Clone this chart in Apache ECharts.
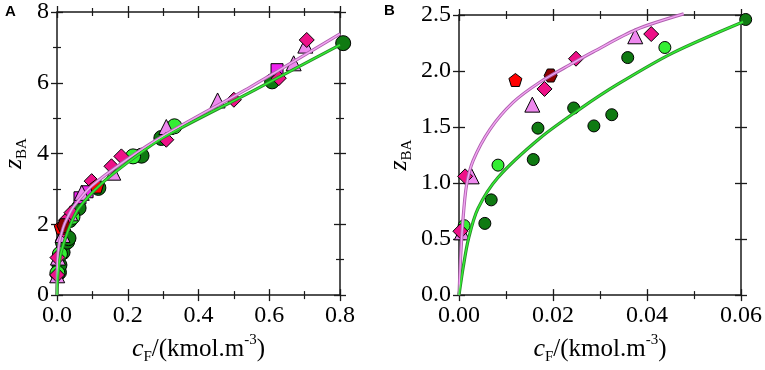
<!DOCTYPE html>
<html lang="en" style="height: 100%">
<head>
  <meta charset="utf-8">
</head>
<body style="height: 100%; margin: 0; background: #fff">
  <div id="container" style="width: 765px; height: 370px"></div>

  <script type="text/javascript" src="https://fastly.jsdelivr.net/npm/echarts@6/dist/echarts.min.js"></script>
  <script type="text/javascript">
// measured points [cF, zBA]
var darkGreen = [[0.0055, 0.64], [0.00685, 0.85], [0.0158, 1.21], [0.0168, 1.49], [0.0244, 1.67], [0.0287, 1.51],
  [0.0325, 1.61], [0.0359, 2.12], [0.061, 2.46], [0.117, 3.03], [0.239, 3.94], [0.295, 4.44], [0.608, 6.04], [0.809, 7.12]];
var lightGreen = [[0.0011, 0.62], [0.0083, 1.16], [0.0438, 2.21], [0.215, 3.92], [0.332, 4.77]];
var pinkDiamond = [[0.0003, 0.57], [0.0013, 1.06], [0.0182, 1.84], [0.0249, 2.11], [0.0409, 2.33], [0.098, 3.22],
  [0.154, 3.64], [0.182, 3.92], [0.309, 4.39], [0.5, 5.52], [0.627, 6.13], [0.706, 7.21]];
var violetTriangle = [[0.0006, 0.56], [0.0027, 1.06], [0.0156, 1.70], [0.0375, 2.31], [0.070, 2.89], [0.159, 3.46],
  [0.309, 4.75], [0.454, 5.5], [0.669, 6.55], [0.702, 7.05]];
var magentaSquare = [[0.065, 2.75], [0.085, 2.92], [0.622, 6.37]];
var redPentagon = [[0.012, 1.92], [0.112, 3.08]];
var darkRedHexagon = [[0.0195, 1.96]];

// fitted curves
var pinkFitA = [[0, 0], [0.0016, 0.98], [0.0066, 1.48], [0.0172, 1.9], [0.0285, 2.17], [0.0478, 2.51], [0.1, 3.1],
  [0.2, 3.85], [0.3, 4.5], [0.55, 5.9], [0.8, 7.38]];
var greenFitA = [[0, 0], [0.002, 0.5], [0.0083, 1.05], [0.0172, 1.4], [0.0337, 1.88], [0.0605, 2.44], [0.126, 3.15],
  [0.22, 3.9], [0.3, 4.45], [0.55, 5.75], [0.8, 7.07]];
var pinkFitB = [[0, 0], [0.0003, 0.3], [0.0008, 0.65], [0.0016, 0.98], [0.003, 1.2], [0.0066, 1.48], [0.0115, 1.72],
  [0.0172, 1.9], [0.0242, 2.07], [0.0285, 2.17], [0.0377, 2.37], [0.0478, 2.51]];
var greenFitB = [[0, 0], [0.0009, 0.25], [0.002, 0.5], [0.004, 0.77], [0.0083, 1.05], [0.0172, 1.4], [0.0257, 1.66],
  [0.0337, 1.88], [0.0454, 2.16], [0.0605, 2.44]];

var serif = 'Liberation Serif';
var pentagon = 'path://M0,-10 L9.51,-3.09 L5.88,8.09 L-5.88,8.09 L-9.51,-3.09 Z';
var hexagon = 'path://M-5,-8.66 L5,-8.66 L10,0 L5,8.66 L-5,8.66 L-10,0 Z';

var nameRich = {
  i: { fontFamily: serif, fontSize: 26, fontStyle: 'italic', lineHeight: 32, color: '#000' },
  n: { fontFamily: serif, fontSize: 25, lineHeight: 32, color: '#000' },
  s: { fontFamily: serif, fontSize: 15, verticalAlign: 'bottom', lineHeight: 14, color: '#000' },
  p: { fontFamily: serif, fontSize: 15, verticalAlign: 'top', lineHeight: 14, color: '#000' }
};

// four axes per side pair: outer + inner ticks so they cross the frame
function makeAxes(grid, dim, min, max, interval, minor, digits, name, nameGap) {
  var pos = dim === 'x' ? ['bottom', 'top'] : ['left', 'right'];
  var list = [];
  pos.forEach(function (p, k) {
    [false, true].forEach(function (inside) {
      var main = k === 0 && !inside;
      list.push({
        type: 'value', gridIndex: grid, position: p, min: min, max: max, interval: interval,
        axisLine: { show: !inside, onZero: false, lineStyle: { color: '#1a1a1a', width: 1.5 } },
        axisTick: { show: true, inside: inside, length: 6, lineStyle: { color: '#1a1a1a', width: 1.3 } },
        minorTick: { show: minor > 1, splitNumber: minor, length: 4, lineStyle: { color: '#1a1a1a', width: 1.2 } },
        splitLine: { show: false },
        axisLabel: {
          show: main, margin: dim === 'x' ? 9 : 8, fontFamily: serif, fontSize: 24, color: '#000',
          formatter: function (v) { return v.toFixed(digits); }
        },
        name: main ? name : '', nameLocation: 'middle', nameGap: nameGap,
        nameTextStyle: { fontFamily: serif, rich: nameRich }
      });
    });
  });
  return list;
}

var xName = '{i|c}{s|F}{n|/(kmol.m}{p|-3}{n|)}';
var yName = '{i|z}{s|BA}';

var xAxes = makeAxes(0, 'x', 0, 0.8, 0.2, 2, 1, xName, 36).concat(makeAxes(1, 'x', 0, 0.06, 0.02, 2, 2, xName, 36));
var yAxes = makeAxes(0, 'y', 0, 8, 2, 2, 0, yName, 27).concat(makeAxes(1, 'y', 0, 2.5, 0.5, 0, 1, yName, 44));

function inB(d) { return d.filter(function (p) { return p[0] <= 0.062; }); }

function pts(grid, data, symbol, size, color) {
  return {
    type: 'scatter', xAxisIndex: grid * 4, yAxisIndex: grid * 4, data: data, symbol: symbol, symbolSize: size,
    clip: false, z: 3,
    itemStyle: { color: color, borderColor: '#000', borderWidth: 1, opacity: 1 }
  };
}
function fit(grid, data, outer, inner) {
  var base = { type: 'line', xAxisIndex: grid * 4, yAxisIndex: grid * 4, data: data, smooth: 0.3,
    showSymbol: false, clip: false };
  return [
    Object.assign({}, base, { z: 4, lineStyle: { color: outer, width: 3.2 } }),
    Object.assign({}, base, { z: 5, lineStyle: { color: inner, width: 1.4 } })
  ];
}

var series = [
  pts(0, darkGreen, 'circle', 15, '#0f7a12'),
  pts(0, lightGreen, 'circle', 15, '#33ee33'),
  pts(0, magentaSquare, 'rect', 12, '#ee22ee'),
  pts(0, violetTriangle, 'triangle', 15, '#ee88ee'),
  pts(0, pinkDiamond, 'diamond', 15, '#ee1188'),
  pts(0, redPentagon, pentagon, 14, '#ff0000'),
  pts(0, darkRedHexagon, hexagon, 14, '#8b0000'),
  pts(1, inB(darkGreen), 'circle', 12, '#0f7a12'),
  pts(1, inB(lightGreen), 'circle', 12, '#33ee33'),
  pts(1, inB(violetTriangle), 'triangle', 15, '#ee88ee'),
  pts(1, inB(pinkDiamond), 'diamond', 15, '#ee1188'),
  pts(1, inB(redPentagon), pentagon, 13, '#ff0000'),
  pts(1, inB(darkRedHexagon), hexagon, 13, '#8b0000')
].concat(
  fit(0, pinkFitA, '#b060b0', '#f2a6f2'),
  fit(0, greenFitA, '#2a8a2a', '#33ee33'),
  fit(1, pinkFitB, '#b060b0', '#f2a6f2'),
  fit(1, greenFitB, '#2a8a2a', '#33ee33')
);

var option = {
  animation: false,
  backgroundColor: '#fff',
  textStyle: { fontFamily: serif },
  grid: [
    { left: 55, top: 12, width: 285, height: 284 },
    { left: 459, top: 15, width: 283, height: 281 }
  ],
  xAxis: xAxes,
  yAxis: yAxes,
  graphic: [
    { type: 'text', left: 5, top: 4, style: { text: 'A', fontFamily: 'Liberation Sans', fontWeight: 'bold', fontSize: 15, fill: '#000' } },
    { type: 'text', left: 384, top: 3, style: { text: 'B', fontFamily: 'Liberation Sans', fontWeight: 'bold', fontSize: 15, fill: '#000' } }
  ],
  series: series
};

var myChart = echarts.init(document.getElementById('container'), null, { renderer: 'canvas' });
myChart.setOption(option);
  </script>
</body>
</html>
